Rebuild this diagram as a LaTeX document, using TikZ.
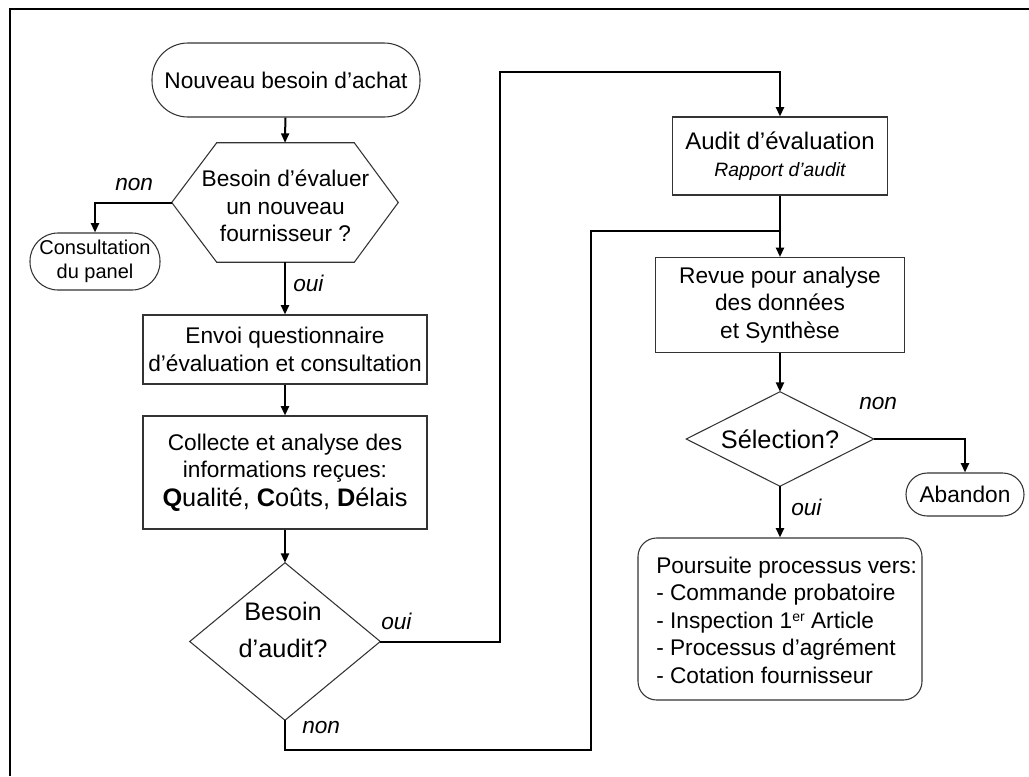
\documentclass[tikz,border=0pt]{standalone}
\usepackage{fontspec}
\setmainfont{Liberation Sans}
\usetikzlibrary{arrows.meta,calc}

\tikzset{
  px/.style={x=0.75pt,y=-0.75pt},
  txt/.style={font=\fontsize{17}{20.6}\selectfont, align=center, inner sep=0pt},
  box/.style={draw=black!80, line width=0.8pt, inner sep=0pt, txt},
  term/.style={box, rounded corners=#1},
  ghost/.style={inner sep=0pt, txt},
  outline/.style={draw=black!80, line width=0.8pt, line join=miter},
  conn/.style={line width=1.5pt, draw=black},
  arr/.style={conn, -{Triangle[length=7pt,width=6pt]}},
  lbl/.style={font=\fontsize{17}{20}\selectfont\itshape, inner sep=0pt, anchor=west},
}
\newcommand{\ordsup}[1]{\raisebox{0.55ex}{\fontsize{10.5}{10.5}\selectfont #1}}

\begin{document}
\begin{tikzpicture}[px]
\useasboundingbox (0,0) rectangle (1029,776);

% frame (only top and left edges)
\draw[line width=1.9pt] (10,776) -- (10,9) -- (1029,9);

% ---- left column ----
\node[term=27pt, minimum width=201pt, minimum height=55.5pt] (start) at (286,80) {Nouveau besoin d’achat};

\node[inner sep=0pt, minimum width=169.5pt, minimum height=89.25pt] (hex) at (285,202.5) {};
\node[ghost] (hexT) at (285.5,206) {Besoin d’évaluer\\un nouveau\\fournisseur ?};
\draw[outline] (hex.west) -- ([xshift=33.75pt]hex.north west) -- ([xshift=-33pt]hex.north east)
  -- (hex.east) -- ([xshift=-33pt]hex.south east) -- ([xshift=33.75pt]hex.south west) -- cycle;

\node[term=21pt, minimum width=97.5pt, minimum height=42.75pt,
      font=\fontsize{15}{18}\selectfont] (cons) at (95,261.5) {Consultation\\du panel};

\node[box, minimum width=213pt, minimum height=51.75pt] (envoi) at (285,349.5)
  {Envoi questionnaire\\d’évaluation et consultation};

\node[box, minimum width=213pt, minimum height=84.75pt] (coll) at (285,472.5)
  {Collecte et analyse des\\informations reçues:\\[1pt]{\fontsize{19}{22}\selectfont\textbf{Q}ualité, \textbf{C}oûts, \textbf{D}élais}};

\node[inner sep=0pt, minimum width=142.5pt, minimum height=117.75pt] (audq) at (285,641.5) {};
\node[ghost, font=\fontsize{19}{28}\selectfont] (audqT) at (283,630) {Besoin\\d’audit?};
\draw[outline] (audq.north) -- (audq.east) -- (audq.south) -- (audq.west) -- cycle;

% ---- right column ----
\node[box, minimum width=161.25pt, minimum height=58.5pt] (audit) at (780,156)
  {{\fontsize{18}{21}\selectfont Audit d’évaluation}\\{\fontsize{14.5}{17}\selectfont\itshape Rapport d’audit}};

\node[box, minimum width=186.75pt, minimum height=71.25pt] (revue) at (780,305)
  {Revue pour analyse\\des données\\et Synthèse};

\node[ghost, minimum width=140.25pt, minimum height=70.5pt,
      font=\fontsize{19}{22}\selectfont] (sel) at (780,439) {Sélection?};
\draw[outline] (sel.north) -- (sel.east) -- (sel.south) -- (sel.west) -- cycle;

\node[term=16pt, minimum width=88.5pt, minimum height=32.25pt] (aband) at (965,494.5) {Abandon};

\node[term=14pt, minimum width=213pt, minimum height=121.5pt] (pours) at (780,619) {};
\node[ghost, align=left, anchor=west] (poursT) at (656,620)
  {Poursuite processus vers:\\- Commande probatoire\\- Inspection 1\ordsup{er} Article\\- Processus d’agrément\\- Cotation fournisseur};

% ---- connectors ----
\coordinate (upA) at (500,72);
\coordinate (lowL) at (591,750);
\coordinate (lowR) at (591,231);
\coordinate (join) at (780,231);

\draw[arr] (start) -- (hex.north);
\draw[arr] (hex.west) -| (cons.north);
\draw[arr] (hex.south) -- (envoi.north);
\draw[arr] (envoi) -- (coll);
\draw[arr] (coll.south) -- (audq.north);
\draw[arr] (audq.east) -| (upA) -| (audit.north);
\draw[conn, line cap=butt] (audq.south) |- (lowL) -- (lowR) -- (join);
\draw[conn] (audit.south) -- (join);
\draw[arr] (join) -- (revue.north);
\draw[arr] (revue.south) -- (sel.north);
\draw[arr] (sel.east) -| (aband.north);
\draw[arr] (sel.south) -- (pours.north);

% ---- branch labels ----
\node[lbl] (l1) at (115,185) {non};
\node[lbl] (l2) at (293,283) {oui};
\node[lbl] (l3) at (381,621) {oui};
\node[lbl] (l4) at (302,728) {non};
\node[lbl] (l5) at (859,404) {non};
\node[lbl] (l6) at (791,507) {oui};
\end{tikzpicture}
\end{document}
